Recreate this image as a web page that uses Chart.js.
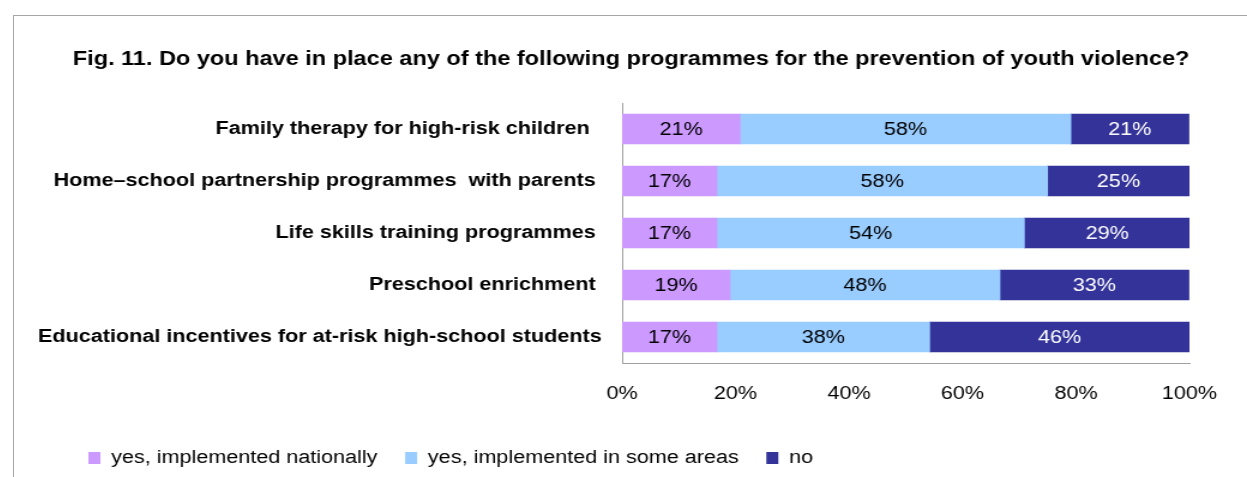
<!DOCTYPE html>
<html>
<head>
<meta charset="utf-8">
<script src="https://cdn.jsdelivr.net/npm/chart.js@4/dist/chart.umd.min.js"></script>
<style>
    body { margin: 0; background: #fff; }
    #marco {
        position: absolute; left: 13px; top: 15px;
        width: 1234px; height: 462px;
        border-left: 1px solid #a6a6a6; border-top: 1px solid #a6a6a6;
    }
    canvas { display: block; }
</style>
</head>
<body>
<!-- el lienzo se dibuja más estrecho y se estira a lo ancho del marco -->
<div id="marco"><canvas id="grafico" width="1028" height="461" style="width:1233px;height:461px"></canvas></div>
<script>
// Programas para la prevención de la violencia juvenil (% de países)
const categorias = [
    "Family therapy for high-risk children  ",
    "Home\u2013school partnership programmes  with parents ",
    "Life skills training programmes ",
    "Preschool enrichment ",
    "Educational incentives for at-risk high-school students"
];
const nacional = [20.8, 16.7, 16.7, 19.0, 16.7];
const algunasZonas = [58.3, 58.3, 54.2, 47.6, 37.5];
const no = [20.8, 25.0, 29.2, 33.3, 45.8];
const ticksX = [0, 20, 40, 60, 80, 100];

const fuente = "'Liberation Sans', Arial, sans-serif";

// Etiquetas de porcentaje dentro de cada segmento
const etiquetas = {
    id: "etiquetas",
    afterDatasetsDraw(chart) {
        const ctx = chart.ctx;
        ctx.save();
        ctx.font = "18px " + fuente;
        ctx.textAlign = "center";
        ctx.textBaseline = "middle";
        chart.data.datasets.forEach((ds, i) => {
            chart.getDatasetMeta(i).data.forEach((barra, j) => {
                const p = barra.getCenterPoint();
                ctx.fillStyle = ds.colorTexto;
                ctx.fillText(Math.round(ds.data[j]) + "%", p.x, p.y + 1);
            });
        });
        ctx.restore();
    }
};

// Mueve la leyenda y el título hacia la derecha sin tocar el eje Y
const desplazar = {
    id: "desplazar",
    afterLayout(chart) {
        chart.legend.left += 39;
        chart.titleBlock.left += 49;
    }
};

new Chart(document.getElementById("grafico"), {
    type: "bar",
    data: {
        labels: categorias,
        datasets: [
            { label: "yes, implemented nationally", data: nacional, backgroundColor: "#cc99ff", colorTexto: "#000" },
            { label: "yes, implemented in some areas", data: algunasZonas, backgroundColor: "#99ccff", colorTexto: "#000" },
            { label: "no", data: no, backgroundColor: "#333399", colorTexto: "#fff" }
        ]
    },
    options: {
        indexAxis: "y",
        responsive: false,
        animation: false,
        devicePixelRatio: 1,
        barThickness: 30,
        layout: { padding: { left: 0, right: 48, top: 0, bottom: 0 } },
        scales: {
            x: {
                stacked: true,
                min: 0,
                max: 100,
                afterBuildTicks: (eje) => { eje.ticks = ticksX.map(v => ({ value: v })); },
                afterFit: (eje) => { eje.height = 63; },
                grid: { display: false, drawTicks: false },
                border: { color: "#a0a0a0", width: 1 },
                ticks: {
                    padding: 20,
                    color: "#000",
                    font: { family: fuente, size: 18 },
                    callback: (v) => v + "%"
                }
            },
            y: {
                stacked: true,
                afterFit: (eje) => { eje.width = 507; },
                grid: { display: false, drawTicks: false },
                border: { color: "#a0a0a0", width: 1 },
                ticks: {
                    padding: 17,
                    color: "#000",
                    font: { family: fuente, size: 18, weight: "bold" }
                }
            }
        },
        plugins: {
            title: {
                display: true,
                text: "Fig. 11. Do you have in place any of the following programmes for the prevention of youth violence?",
                color: "#000",
                font: { family: fuente, size: 20, weight: "bold" },
                padding: { top: 31, bottom: 32 }
            },
            legend: {
                position: "bottom",
                align: "start",
                labels: {
                    boxWidth: 10,
                    boxHeight: 12,
                    padding: 23,
                    color: "#000",
                    font: { family: fuente, size: 18 }
                }
            },
            tooltip: { enabled: false }
        }
    },
    plugins: [etiquetas, desplazar]
});
</script>
</body>
</html>
